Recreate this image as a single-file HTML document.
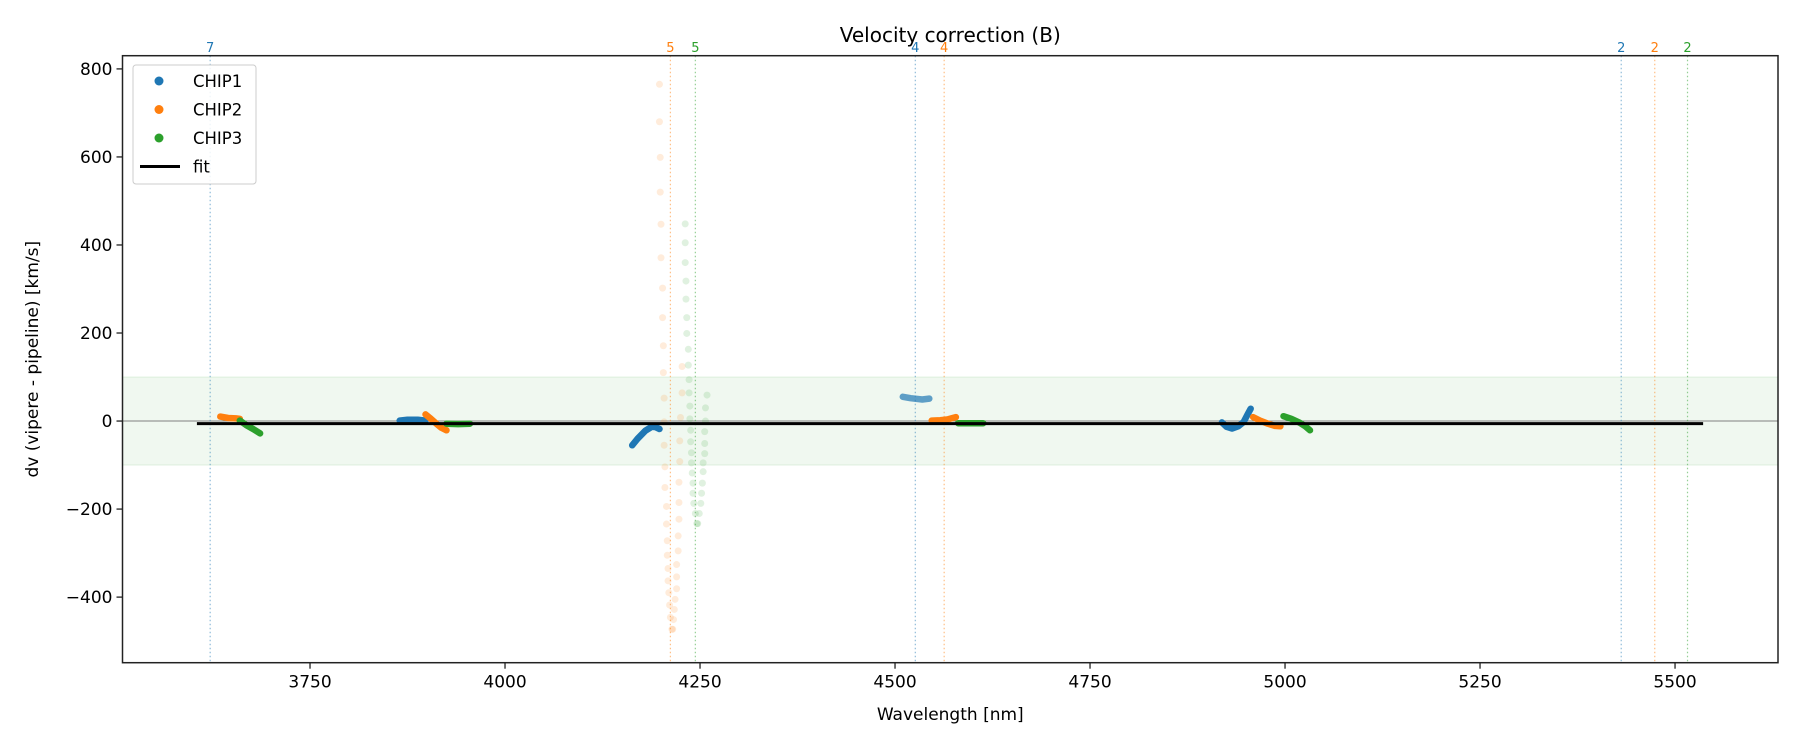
<!DOCTYPE html>
<html><head><meta charset="utf-8"><style>
html,body{margin:0;padding:0;background:#fff;}
svg{display:block;font-family:"DejaVu Sans","Liberation Sans",sans-serif;}
</style></head><body>
<svg id="chart" width="1800" height="750" viewBox="0 0 1800 750"></svg>
<script>
const xTicks=[3750,4000,4250,4500,4750,5000,5250,5500];
const yTicks=[800,600,400,200,0,-200,-400];
const chip1Segments=[
 [[3865,1],[3875,3],[3888,3],[3898,1]],
 [[4163,-55],[4170,-40],[4180,-22],[4188,-13],[4193,-14],[4198,-18]],
 [[4510,55],[4520,52],[4535,49],[4544,51]],
 [[4919,-3],[4925,-13],[4932,-17],[4940,-12],[4947,-2],[4952,15],[4956,28]]
];
const chip2Segments=[
 [[3635,10],[3645,7],[3655,6],[3660,5]],
 [[3898,15],[3905,5],[3912,-6],[3918,-15],[3925,-21]],
 [[4547,1],[4558,2],[4568,4],[4578,9]],
 [[4959,9],[4968,1],[4978,-6],[4987,-11],[4994,-12]]
];
const chip3Segments=[
 [[3660,1],[3668,-9],[3677,-18],[3686,-28]],
 [[3925,-6],[3940,-7],[3955,-6]],
 [[4581,-5],[4597,-5],[4613,-5]],
 [[4998,11],[5008,5],[5018,-3],[5026,-12],[5032,-21]]
];
const chip2ScatterX=[4198,4198,4199,4199,4200,4200,4202,4202,4203,4203,4204,4204,4204,4205,4205,4207,4207,4208,4208,4209,4209,4210,4211,4212,4214,
 4227,4227,4225,4224,4224,4223,4223,4223,4222,4222,4220,4220,4220,4218,4217,4216,4215];
const chip2ScatterY=[765,680,599,520,447,371,302,235,171,110,52,-2,-55,-104,-151,-194,-234,-272,-305,-335,-363,-390,-418,-446,-473,
 124,64,8,-45,-92,-139,-185,-223,-261,-295,-326,-354,-381,-405,-428,-451,-473];
const chip3ScatterX=[4231,4231,4231,4232,4232,4233,4233,4235,4235,4236,4236,4237,4237,4238,4238,4239,4239,4240,4241,4241,4242,4244,4246,
 4259,4257,4257,4256,4256,4256,4254,4254,4253,4252,4251,4249,4247];
const chip3ScatterY=[448,405,360,318,277,235,199,163,127,94,64,34,5,-21,-47,-72,-95,-118,-141,-164,-187,-210,-233,
 59,30,0,-24,-51,-74,-95,-115,-141,-164,-187,-210,-233];
const vlineX=[3622,4212,4244,4526,4563,5431,5474,5516];
const vlineLabels=["7","5","5","4","4","2","2","2"];
const vlineChip=[0,1,2,0,1,0,1,2];
const fitX=[3605,5536];
const fitY=[-6,-6];
const bandLow=-100, bandHigh=100;

const C=["#1f77b4","#ff7f0e","#2ca02c"];
const L=122.5,R=1778,T=55.7,B=662.7;
const xmin=3509.6,xmax=5632,ymin=-549,ymax=830;
const X=v=>L+(v-xmin)/(xmax-xmin)*(R-L);
const Y=v=>B-(v-ymin)/(ymax-ymin)*(B-T);
const svg=document.getElementById('chart');
const NS="http://www.w3.org/2000/svg";
function mk(tag,attrs,parent){const e=document.createElementNS(NS,tag);for(const k in attrs)e.setAttribute(k,attrs[k]);(parent||svg).appendChild(e);return e;}

let band=mk('rect',{x:L,y:Y(bandHigh),width:R-L,height:Y(bandLow)-Y(bandHigh),fill:"#2ca02c","fill-opacity":0.07,stroke:"#2ca02c","stroke-opacity":0.12,"stroke-width":1});


let zl=mk('line',{x1:L,x2:R,y1:Y(0),y2:Y(0),stroke:"#808080","stroke-width":1});



vlineX.forEach((v,i)=>{
 let ln=mk('line',{x1:X(v),x2:X(v),y1:T,y2:B,stroke:C[vlineChip[i]],"stroke-opacity":0.5,"stroke-width":1.2,"stroke-dasharray":"1.5,2.5"});
 
 
 let t=mk('text',{x:X(v),y:52,"text-anchor":"middle","font-size":13,fill:C[vlineChip[i]]});
 t.textContent=vlineLabels[i];
 
 
});

chip2ScatterX.forEach((v,i)=>{
 let c=mk('circle',{cx:X(v),cy:Y(chip2ScatterY[i]),r:3.5,fill:C[1],"fill-opacity":0.15});
 
 
});
chip3ScatterX.forEach((v,i)=>{
 let c=mk('circle',{cx:X(v),cy:Y(chip3ScatterY[i]),r:3.5,fill:C[2],"fill-opacity":0.15});
 
 
});

[chip1Segments,chip2Segments,chip3Segments].forEach((segs,ci)=>{
 segs.forEach((seg,si)=>{
  const d=seg.map((p,j)=>(j?'L':'M')+X(p[0]).toFixed(1)+','+Y(p[1]).toFixed(1)).join('');
  let op=(ci===0&&si===2)?0.7:1;
  let p=mk('path',{d:d,fill:"none",stroke:C[ci],"stroke-width":6.5,"stroke-linecap":"round","stroke-linejoin":"round","stroke-opacity":op});
  
  
 });
});

let fl=mk('line',{x1:X(fitX[0]),x2:X(fitX[1]),y1:Y(fitY[0]),y2:Y(fitY[1]),stroke:"#000","stroke-width":3});



let fr=mk('rect',{x:L,y:T,width:R-L,height:B-T,fill:"none",stroke:"#222","stroke-width":1.5});


xTicks.forEach(v=>{
 let tk=mk('line',{x1:X(v),x2:X(v),y1:B,y2:B+6,stroke:"#222","stroke-width":1.3});
 
 
 let t=mk('text',{x:X(v),y:B+25,"text-anchor":"middle","font-size":17,fill:"#000"});
 t.textContent=v;
 
 
});
yTicks.forEach(v=>{
 let tk=mk('line',{x1:L-6,x2:L,y1:Y(v),y2:Y(v),stroke:"#222","stroke-width":1.3});
 
 
 let t=mk('text',{x:L-10,y:Y(v)+6,"text-anchor":"end","font-size":17,fill:"#000"});
 t.textContent=v<0?'\u2212'+(-v):v;
 
 
});
let xl=mk('text',{x:(L+R)/2,y:720,"text-anchor":"middle","font-size":17});
xl.textContent="Wavelength [nm]";


let yl=mk('text',{x:0,y:0,"text-anchor":"middle","font-size":17,transform:`translate(38,${(T+B)/2}) rotate(-90)`});
yl.textContent="dv (vipere - pipeline) [km/s]";


let tt=mk('text',{x:(L+R)/2,y:42,"text-anchor":"middle","font-size":20});
tt.textContent="Velocity correction (B)";



let lg=mk('g',{});


mk('rect',{x:133,y:65,width:123,height:119,rx:3,fill:"#fff","fill-opacity":0.85,stroke:"#ccc","stroke-width":1},lg);
const legNames=["CHIP1","CHIP2","CHIP3","fit"];
legNames.forEach((n,i)=>{
 const yy=81+i*28.5;
 if(i<3){let c=mk('circle',{cx:159,cy:yy,r:4.5,fill:C[i]},lg);
  
  }
 else{let l=mk('line',{x1:140,x2:180,y1:yy,y2:yy,stroke:"#000","stroke-width":3},lg);
  
  }
 let t=mk('text',{x:193,y:yy+6,"font-size":16.5},lg);
 t.textContent=n;
 
 
});
</script>
</body></html>
